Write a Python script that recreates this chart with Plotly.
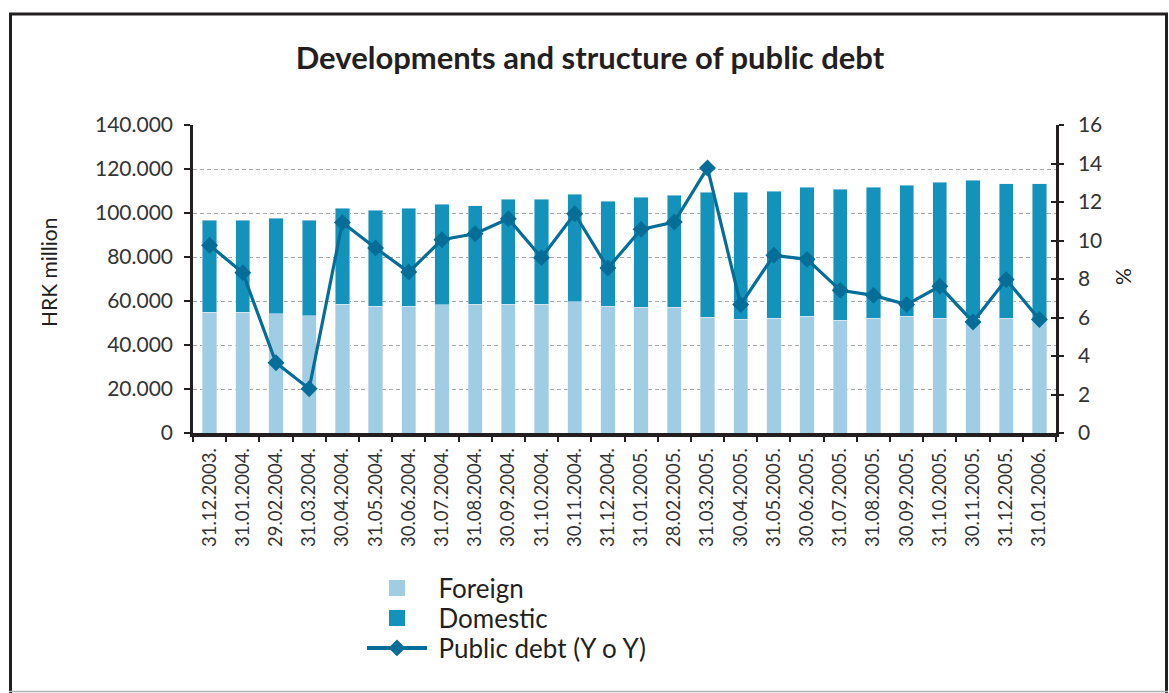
import plotly.graph_objects as go

# Month-end dates
dates = [
    "31.12.2003.", "31.01.2004.", "29.02.2004.", "31.03.2004.", "30.04.2004.",
    "31.05.2004.", "30.06.2004.", "31.07.2004.", "31.08.2004.", "30.09.2004.",
    "31.10.2004.", "30.11.2004.", "31.12.2004.", "31.01.2005.", "28.02.2005.",
    "31.03.2005.", "30.04.2005.", "31.05.2005.", "30.06.2005.", "31.07.2005.",
    "31.08.2005.", "30.09.2005.", "31.10.2005.", "30.11.2005.", "31.12.2005.",
    "31.01.2006.",
]

# Public debt by source, HRK million
foreign = [
    55000, 55000, 54100, 53200, 58600, 57700, 57700, 58200, 58600, 58600,
    58600, 59600, 57700, 57100, 57100, 52600, 51700, 52100, 53000, 51200,
    52100, 53000, 52100, 52100, 52100, 51700,
]
domestic = [
    41700, 41700, 43500, 43500, 43500, 43500, 44400, 45800, 44800, 47600,
    47600, 48900, 47600, 50000, 50900, 56800, 57700, 57700, 58600, 59600,
    59600, 59600, 61800, 62700, 61200, 61700,
]

# Year-on-year growth of public debt, %
yoy = [
    9.75, 8.33, 3.65, 2.30, 10.93, 9.61, 8.36, 10.04, 10.35, 11.13,
    9.11, 11.39, 8.57, 10.58, 10.96, 13.77, 6.67, 9.23, 9.02, 7.41,
    7.15, 6.67, 7.62, 5.77, 7.97, 5.90,
]

left_ticks = [0, 20000, 40000, 60000, 80000, 100000, 120000, 140000]
right_ticks = [0, 2, 4, 6, 8, 10, 12, 14, 16]

C_FOREIGN = "#9ecde4"
C_DOMESTIC = "#1393bb"
C_LINE = "#046e98"
INK = "#231f20"
FONT = "Lato"

W, H = 1169, 693
ML, MR, MT, MB = 193, 113, 125, 260
PW, PH = W - ML - MR, H - MT - MB


def px_x(px):
    return (px - ML) / PW


def px_y(py):
    return (H - MB - py) / PH


fig = go.Figure()

fig.add_trace(go.Bar(
    x=dates, y=foreign, name="Foreign", marker_color=C_FOREIGN,
    width=0.43, showlegend=False,
))
fig.add_trace(go.Bar(
    x=dates, y=domestic, name="Domestic", marker_color=C_DOMESTIC,
    width=0.43, showlegend=False,
))
fig.add_trace(go.Scatter(
    x=dates, y=yoy, yaxis="y2", mode="lines+markers", showlegend=False,
    line=dict(color=C_LINE, width=3.2),
    marker=dict(symbol="diamond", size=13, color=C_LINE),
))

# Legend entries, one legend box per row
GAP = "\u2009\u2009"
fig.add_trace(go.Scatter(
    x=[dates[0]], y=[None], mode="markers", name=GAP + "Foreign",
    legend="legend",
    marker=dict(symbol="square", size=16, color=C_FOREIGN),
))
fig.add_trace(go.Scatter(
    x=[dates[0]], y=[None], mode="markers", name=GAP + "Domestic",
    legend="legend2",
    marker=dict(symbol="square", size=16, color=C_DOMESTIC),
))
fig.add_trace(go.Scatter(
    x=[dates[0]], y=[None], mode="lines+markers",
    name=GAP + "Public debt (Y o Y)", legend="legend3",
    line=dict(color=C_LINE, width=4),
    marker=dict(symbol="diamond", size=13, color=C_LINE),
))

# Invisible trace so the inside ticks of the right axis are drawn
fig.add_trace(go.Scatter(x=[dates[0]], y=[0], yaxis="y3", mode="markers",
                         marker=dict(opacity=0), showlegend=False,
                         hoverinfo="skip"))

# Outer frame
frame = [
    (10.5, 13.5, 10.5, 693, INK, 3),
    (9, 14, 1168, 14, INK, 3),
    (1166.5, 13.5, 1166.5, 693, INK, 3),
    (9, 691.5, 1168, 691.5, "#b0b0b0", 1.5),
]
shapes = [
    dict(type="line", xref="paper", yref="paper",
         x0=px_x(a), y0=px_y(b), x1=px_x(c), y1=px_y(d),
         line=dict(color=col, width=w), layer="above")
    for a, b, c, d, col, w in frame
]


def legend_box(row_y):
    return dict(
        x=px_x(362), y=px_y(row_y), xanchor="left", yanchor="middle",
        orientation="v", itemwidth=60,
        font=dict(family=FONT, size=26, color=INK),
        bgcolor="rgba(0,0,0,0)",
    )


fig.update_layout(
    width=W, height=H,
    margin=dict(l=ML, r=MR, t=MT, b=MB, pad=0),
    paper_bgcolor="white", plot_bgcolor="white",
    barmode="stack",
    separators=",.",
    font=dict(family=FONT, color=INK),
    title=dict(
        text="<b>Developments and structure of public debt</b>",
        x=590 / W, xref="container", xanchor="center",
        y=1 - 58 / H, yref="container", yanchor="middle",
        font=dict(family=FONT, size=31, color=INK),
    ),
    xaxis=dict(
        type="category", categoryarray=dates, categoryorder="array",
        range=[-0.5, len(dates) - 0.5],
        showline=True, linecolor=INK, linewidth=3.5,
        ticks="outside", tickson="boundaries", ticklen=5, tickwidth=2,
        tickcolor=INK, tickangle=-90, showgrid=False,
        tickfont=dict(family=FONT, size=18.5, color="#333333"),
        ticklabelstandoff=4,
    ),
    yaxis=dict(
        range=[0, 140000], tickvals=left_ticks, tickformat=",d",
        showline=True, linecolor=INK, linewidth=2.5,
        ticks="outside", ticklen=6, tickwidth=2, tickcolor=INK,
        showgrid=True, gridcolor="#a8a8a8", gridwidth=1, griddash="4px,3px",
        zeroline=False,
        tickfont=dict(family=FONT, size=21, color="#333333"),
        ticklabelstandoff=7,
    ),
    yaxis2=dict(
        range=[0, 16], tickvals=right_ticks, overlaying="y", side="right",
        showline=True, linecolor=INK, linewidth=2.5,
        ticks="outside", ticklen=5, tickwidth=2, tickcolor=INK,
        showgrid=False, zeroline=False,
        tickfont=dict(family=FONT, size=21, color="#333333"),
        ticklabelstandoff=10,
    ),
    yaxis3=dict(
        range=[0, 16], tickvals=right_ticks, overlaying="y", side="right",
        showline=False, ticks="inside", ticklen=5, tickwidth=2,
        tickcolor=INK, showticklabels=False, showgrid=False, zeroline=False,
    ),
    legend=legend_box(588),
    legend2=legend_box(618),
    legend3=legend_box(648),
    shapes=shapes,
    annotations=[
        dict(text="HRK million", xref="paper", yref="paper",
             x=px_x(48), y=px_y(273), showarrow=False, textangle=-90,
             xanchor="center", yanchor="middle",
             font=dict(family=FONT, size=21, color=INK)),
        dict(text="%", xref="paper", yref="paper",
             x=px_x(1122), y=px_y(277), showarrow=False, textangle=-90,
             xanchor="center", yanchor="middle",
             font=dict(family=FONT, size=21, color=INK)),
    ],
)

fig.write_html("out.html")
